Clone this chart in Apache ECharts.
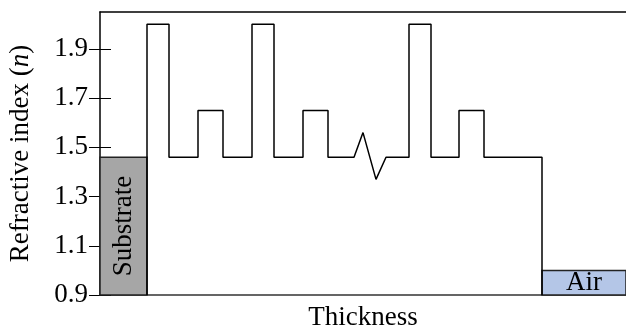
<!DOCTYPE html>
<html>
<head>
<meta charset="utf-8">
<script src="https://cdn.jsdelivr.net/npm/echarts@6/dist/echarts.min.js"></script>
<style>
  html, body { margin: 0; padding: 0; background: #fff; }
  #chart { width: 626px; height: 330px; }
</style>
</head>
<body>
<div id="chart"></div>
<script>
// thickness in arbitrary units, refractive index n
var yTicks = [0.9, 1.1, 1.3, 1.5, 1.7, 1.9];
var substrate = [0, 47], substrateN = 1.46;
var air = [442, 526], airN = 1.0;
// layer i spans layerEdges[i] .. layerEdges[i+1]
var layerEdges = [47, 69, 98, 123, 152, 174, 203, 228, 309, 331, 359, 384, 442];
var layerIndex = [2.0, 1.46, 1.65, 1.46, 2.0, 1.46, 1.65, 1.46, 2.0, 1.46, 1.65, 1.46];
// break marker drawn inside layer 7
var breakLayer = 7;
var breakX = [254, 263, 276, 286];
var breakN = [1.46, 1.56, 1.37, 1.46];

var font = "'Liberation Serif', 'DejaVu Serif', serif";
var fs = 27;

var profile = [[layerEdges[0], 0.9]];
for (var i = 0; i < layerIndex.length; i++) {
    profile.push([layerEdges[i], layerIndex[i]]);
    if (i === breakLayer) {
        for (var k = 0; k < breakX.length; k++) profile.push([breakX[k], breakN[k]]);
    }
    profile.push([layerEdges[i + 1], layerIndex[i]]);
}
profile.push([layerEdges[layerEdges.length - 1], 0.9]);

var chart = echarts.init(document.getElementById("chart"));
var option = {
    animation: false,
    grid: { left: 100, right: 0, top: 12, bottom: 35, containLabel: false, outerBoundsMode: "none" },
    xAxis: [{
        type: "value", min: 0, max: 526,
        name: "Thickness", nameLocation: "middle", nameGap: 9,
        nameTextStyle: { fontFamily: font, fontSize: fs, color: "#000", verticalAlign: "top" },
        axisLine: { onZero: false, lineStyle: { color: "#333", width: 1.5 } },
        axisTick: { show: false }, axisLabel: { show: false }, splitLine: { show: false }
    }, {
        type: "value", min: 0, max: 526, position: "top",
        axisLine: { onZero: false, lineStyle: { color: "#000", width: 1.5 } },
        axisTick: { show: false }, axisLabel: { show: false }, splitLine: { show: false }
    }],
    yAxis: [{
        type: "value", min: 0.9, max: 2.05, position: "left",
        name: "{a|Refractive index (}{b|n}{a|)}", nameLocation: "middle", nameGap: 66,
        nameTextStyle: {
            rich: {
                a: { fontFamily: font, fontSize: fs, color: "#000" },
                b: { fontFamily: font, fontSize: fs, color: "#000", fontStyle: "italic" }
            }
        },
        axisLine: { onZero: false, lineStyle: { color: "#000", width: 1.5 } },
        axisTick: { inside: true, length: 11, customValues: yTicks, lineStyle: { color: "#000" } },
        axisLabel: {
            customValues: yTicks, margin: 12,
            fontFamily: font, fontSize: fs, color: "#000",
            formatter: function (v) { return v.toFixed(1); }
        },
        splitLine: { show: false }
    }, {
        type: "value", min: 0.9, max: 2.05, position: "right",
        axisLine: { show: false },
        axisTick: { show: true, inside: true, length: 11, customValues: yTicks, lineStyle: { color: "#000" } },
        axisLabel: { show: false },
        splitLine: { show: false }
    }],
    series: [{
        type: "line",
        data: profile,
        symbol: "none",
        lineStyle: { color: "#000", width: 1.5 },
        z: 3,
        markArea: {
            silent: true,
            data: [
                [{
                    xAxis: substrate[0], yAxis: 0.9,
                    itemStyle: { color: "#a6a6a6", borderColor: "#222", borderWidth: 1.5 },
                    label: { show: true, formatter: "Substrate", position: "inside", rotate: 90,
                        fontFamily: font, fontSize: fs, color: "#000" }
                }, { xAxis: substrate[1], yAxis: substrateN }],
                [{
                    xAxis: air[0], yAxis: 0.9,
                    itemStyle: { color: "#b4c6e7", borderColor: "#222", borderWidth: 1.5 },
                    label: { show: true, formatter: "Air", position: "inside",
                        fontFamily: font, fontSize: fs, color: "#000" }
                }, { xAxis: air[1], yAxis: airN }]
            ]
        }
    }]
};
chart.setOption(option);
window.addEventListener("resize", chart.resize);
</script>
</body>
</html>
